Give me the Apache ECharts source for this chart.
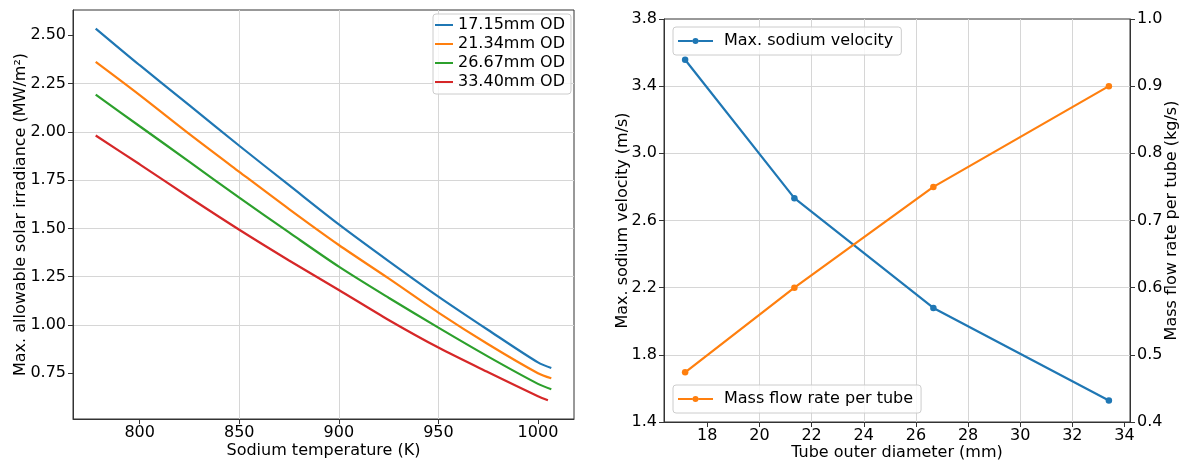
<!DOCTYPE html>
<html>
<head>
<meta charset="utf-8">
<script src="https://cdn.jsdelivr.net/npm/echarts@6/dist/echarts.min.js"></script>
<style>
  html, body { margin: 0; padding: 0; background: #fff; }
  #chart { width: 1185px; height: 461px; }
</style>
</head>
<body>
<div id="chart"></div>
<script>
// left panel: irradiance vs sodium temperature
const temps = [777.9, 800, 825, 850, 875, 900, 925, 950, 975, 1000, 1006.7]
const tempsRed = [777.9, 800, 825, 850, 875, 900, 925, 950, 975, 1000, 1005]
const tubeNames = ['17.15mm OD', '21.34mm OD', '26.67mm OD', '33.40mm OD']
const irr17 = [2.535, 2.345, 2.137, 1.928, 1.724, 1.521, 1.331, 1.147, 0.974, 0.806, 0.777]
const irr21 = [2.362, 2.190, 1.988, 1.793, 1.600, 1.414, 1.241, 1.064, 0.900, 0.750, 0.724]
const irr26 = [2.193, 2.029, 1.845, 1.659, 1.479, 1.302, 1.141, 0.986, 0.836, 0.695, 0.667]
const irr33 = [1.981, 1.832, 1.660, 1.493, 1.334, 1.181, 1.026, 0.883, 0.755, 0.631, 0.610]
const tempTicks = [800, 850, 900, 950, 1000]
const irrTicks = [0.75, 1.00, 1.25, 1.50, 1.75, 2.00, 2.25, 2.50]

// right panel: velocity and mass flow vs tube diameter
const diameters = [17.15, 21.34, 26.67, 33.40]
const velocity = [3.557, 2.733, 2.079, 1.528]
const massFlow = [0.474, 0.600, 0.750, 0.900]
const diamTicks = [18, 20, 22, 24, 26, 28, 30, 32, 34]

const colors = ['#1f77b4', '#ff7f0e', '#2ca02c', '#d62728']
const font = 'DejaVu Sans'
const txt = { color: '#000', fontSize: 16, fontFamily: font }
const spine = '#333333'
const gridCol = '#d6d6d6'

// legend handles: plain line, and line with a dot in the middle
const lineIcon = 'path://M0,0 M0,7 L18,7 L18,9 L0,9 Z M18,16'
const dotIcon = 'path://M0,0 M0,7 L14.5,7 L14.5,9 L0,9 Z M20.5,7 L35,7 L35,9 L20.5,9 Z ' +
  'M14.5,8 A3,3 0 1 0 20.5,8 A3,3 0 1 0 14.5,8 Z M35,16'

const pairs = (xs, ys) => xs.map((x, i) => [x, ys[i]])

const chart = echarts.init(document.getElementById('chart'), null, { renderer: 'canvas' })

const legendBox = {
  backgroundColor: 'rgba(255,255,255,0.8)',
  borderColor: '#cccccc',
  borderWidth: 1,
  borderRadius: 3,
  textStyle: { ...txt }
}

const splitLine = { show: true, showMinLine: false, showMaxLine: false, lineStyle: { color: gridCol, width: 1 } }
const axisLine = { show: true, onZero: false, lineStyle: { color: spine } }

const option = {
  animation: false,
  color: colors,
  grid: [
    { left: 73, top: 10, width: 501, height: 409, show: true, borderColor: spine, borderWidth: 1,
      containLabel: false, outerBoundsMode: 'none' },
    { left: 664, top: 19, width: 466, height: 403, show: true, borderColor: spine, borderWidth: 1,
      containLabel: false, outerBoundsMode: 'none' }
  ],
  legend: [
    {
      ...legendBox,
      data: tubeNames.map(n => ({ name: n, icon: lineIcon })),
      orient: 'vertical',
      left: 433,
      top: 14,
      itemWidth: 18,
      itemHeight: 16,
      itemGap: 3,
      padding: [3, 6, 4, 2]
    },
    {
      ...legendBox,
      data: [{ name: 'Max. sodium velocity', icon: dotIcon }],
      left: 673,
      top: 27,
      itemWidth: 35,
      itemHeight: 16,
      padding: [6, 8, 6, 5],
      textStyle: { ...txt, padding: [0, 0, 0, 6] }
    },
    {
      ...legendBox,
      data: [{ name: 'Mass flow rate per tube', icon: dotIcon }],
      left: 673,
      top: 385,
      itemWidth: 35,
      itemHeight: 16,
      padding: [6, 8, 6, 5],
      textStyle: { ...txt, padding: [0, 0, 0, 6] }
    }
  ],
  xAxis: [
    {
      type: 'value', gridIndex: 0, min: 766.5, max: 1018.1, minInterval: 50, maxInterval: 50,
      name: 'Sodium temperature (K)', nameLocation: 'middle', nameGap: 24, nameMoveOverlap: false, nameTextStyle: txt,
      axisLine,
      axisTick: { show: true, length: 5, customValues: tempTicks, lineStyle: { color: spine } },
      axisLabel: { ...txt, margin: 6, customValues: tempTicks, formatter: v => String(v) },
      splitLine
    },
    {
      type: 'value', gridIndex: 1, min: 16.34, max: 34.21, minInterval: 2, maxInterval: 2,
      name: 'Tube outer diameter (mm)', nameLocation: 'middle', nameGap: 23, nameMoveOverlap: false, nameTextStyle: txt,
      axisLine,
      axisTick: { show: true, length: 5, customValues: diamTicks, lineStyle: { color: spine } },
      axisLabel: { ...txt, margin: 6, customValues: diamTicks, formatter: v => String(v) },
      splitLine
    }
  ],
  yAxis: [
    {
      type: 'value', gridIndex: 0, min: 0.513, max: 2.631, minInterval: 0.25, maxInterval: 0.25,
      name: 'Max. allowable solar irradiance (MW/m²)', nameLocation: 'middle', nameGap: 44, nameMoveOverlap: false, nameTextStyle: txt,
      axisLine,
      axisTick: { show: true, length: 5, customValues: irrTicks, lineStyle: { color: spine } },
      axisLabel: { ...txt, margin: 7, customValues: irrTicks, formatter: v => v.toFixed(2) },
      splitLine
    },
    {
      type: 'value', gridIndex: 1, position: 'left', min: 1.4, max: 3.8, interval: 0.4,
      name: 'Max. sodium velocity (m/s)', nameLocation: 'middle', nameGap: 33, nameMoveOverlap: false, nameTextStyle: txt,
      axisLine,
      axisTick: { show: true, length: 5, lineStyle: { color: spine } },
      axisLabel: { ...txt, margin: 7, formatter: v => v.toFixed(1) },
      splitLine
    },
    {
      type: 'value', gridIndex: 1, position: 'right', min: 0.4, max: 1.0, interval: 0.1,
      name: 'Mass flow rate per tube (kg/s)', nameLocation: 'middle', nameGap: 34, nameMoveOverlap: false, nameTextStyle: txt,
      axisLine,
      axisTick: { show: true, length: 5, lineStyle: { color: spine } },
      axisLabel: { ...txt, margin: 7, formatter: v => v.toFixed(1) },
      splitLine: { show: false }
    }
  ],
  series: [
    { name: tubeNames[0], type: 'line', xAxisIndex: 0, yAxisIndex: 0, symbol: 'none', smooth: 0.3, lineStyle: { width: 2.2 }, data: pairs(temps, irr17) },
    { name: tubeNames[1], type: 'line', xAxisIndex: 0, yAxisIndex: 0, symbol: 'none', smooth: 0.3, lineStyle: { width: 2.2 }, data: pairs(temps, irr21) },
    { name: tubeNames[2], type: 'line', xAxisIndex: 0, yAxisIndex: 0, symbol: 'none', smooth: 0.3, lineStyle: { width: 2.2 }, data: pairs(temps, irr26) },
    { name: tubeNames[3], type: 'line', xAxisIndex: 0, yAxisIndex: 0, symbol: 'none', smooth: 0.3, lineStyle: { width: 2.2 }, data: pairs(tempsRed, irr33) },
    {
      name: 'Max. sodium velocity', type: 'line', xAxisIndex: 1, yAxisIndex: 1,
      symbol: 'circle', symbolSize: 6.5, showSymbol: true,
      lineStyle: { width: 2.2, color: colors[0] }, itemStyle: { color: colors[0] },
      data: pairs(diameters, velocity)
    },
    {
      name: 'Mass flow rate per tube', type: 'line', xAxisIndex: 1, yAxisIndex: 2,
      symbol: 'circle', symbolSize: 6.5, showSymbol: true,
      lineStyle: { width: 2.2, color: colors[1] }, itemStyle: { color: colors[1] },
      data: pairs(diameters, massFlow)
    }
  ]
}

chart.setOption(option)
</script>
</body>
</html>
